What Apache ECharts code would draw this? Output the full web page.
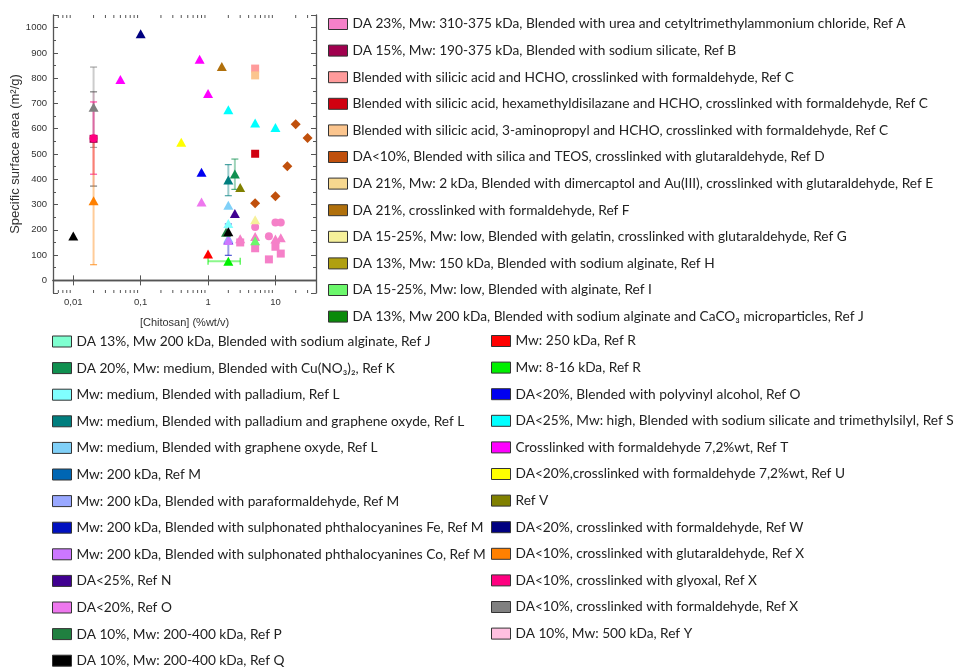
<!DOCTYPE html>
<html>
<head>
<meta charset="utf-8">
<script src="https://cdn.jsdelivr.net/npm/echarts@6/dist/echarts.min.js"></script>
<style>html,body{margin:0;padding:0;background:#fff;}#chart{width:956px;height:667px;}</style>
</head>
<body>
<div id="chart"></div>
<script>
// ---------- series names (legend) ----------
const seriesNames = [
  "DA 23%, Mw: 310-375 kDa, Blended with urea and cetyltrimethylammonium chloride, Ref A",
  "DA 15%, Mw: 190-375 kDa, Blended with sodium silicate, Ref B",
  "Blended with silicic acid and HCHO, crosslinked with formaldehyde, Ref C",
  "Blended with silicic acid, hexamethyldisilazane and HCHO, crosslinked with formaldehyde, Ref C",
  "Blended with silicic acid, 3-aminopropyl and HCHO, crosslinked with formaldehyde, Ref C",
  "DA<10%, Blended with silica and TEOS, crosslinked with glutaraldehyde, Ref D",
  "DA 21%, Mw: 2 kDa, Blended with dimercaptol and Au(III), crosslinked with glutaraldehyde, Ref E",
  "DA 21%, crosslinked with formaldehyde, Ref F",
  "DA 15-25%, Mw: low, Blended with gelatin, crosslinked with glutaraldehyde, Ref G",
  "DA 13%, Mw: 150 kDa, Blended with sodium alginate, Ref H",
  "DA 15-25%, Mw: low, Blended with alginate, Ref I",
  "DA 13%, Mw 200 kDa, Blended with sodium alginate and CaCO\u2083 microparticles, Ref J",
  "DA 13%, Mw 200 kDa, Blended with sodium alginate, Ref J",
  "DA 20%, Mw: medium, Blended with Cu(NO\u2083)\u2082, Ref K",
  "Mw: medium, Blended with palladium, Ref L",
  "Mw: medium, Blended with palladium and graphene oxyde, Ref L",
  "Mw: medium, Blended with graphene oxyde, Ref L",
  "Mw: 200 kDa, Ref M",
  "Mw: 200 kDa, Blended with paraformaldehyde, Ref M",
  "Mw: 200 kDa, Blended with sulphonated phthalocyanines Fe, Ref M",
  "Mw: 200 kDa, Blended with sulphonated phthalocyanines Co, Ref M",
  "DA<25%, Ref N",
  "DA<20%, Ref O",
  "DA 10%, Mw: 200-400 kDa, Ref P",
  "DA 10%, Mw: 200-400 kDa, Ref Q",
  "Mw: 250 kDa, Ref R",
  "Mw: 8-16 kDa, Ref R",
  "DA<20%, Blended with polyvinyl alcohol, Ref O",
  "DA<25%, Mw: high, Blended with sodium silicate and trimethylsilyl, Ref S",
  "Crosslinked with formaldehyde 7,2%wt, Ref T",
  "DA<20%,crosslinked with formaldehyde 7,2%wt, Ref U",
  "Ref V",
  "DA<20%, crosslinked with formaldehyde, Ref W",
  "DA<10%, crosslinked with glutaraldehyde, Ref X",
  "DA<10%, crosslinked with glyoxal, Ref X",
  "DA<10%, crosslinked with formaldehyde, Ref X",
  "DA 10%, Mw: 500 kDa, Ref Y"
];
const seriesColors = [
  "#f580c8","#a0004e","#ff9b9b","#d00010","#fbc58e","#c0500c","#f7d88f","#b0700c",
  "#f6f09a","#b0a010","#6cf76c","#0a8a0a","#7fffd0","#109050","#80ffff","#007e7e",
  "#80d0f8","#0066b3","#99a8ff","#0010c0","#cc77ff","#400090","#ee77ee","#208040",
  "#000000","#ff0000","#00f000","#0000f0","#00ffff","#ff00ff","#ffff00","#808000",
  "#000080","#ff8000","#ff0080","#808080","#ffc0e0"
];

// ---------- data points: [chitosan %wt/v, specific surface area m²/g] ----------
const ptsA  = [[3,165],[5,174],[10,164],[12,169],[3,150],[5,127],[8,83],[10,133],[12,106],[5,211],[8,175],[10,229],[12,229]];
const mkA   = ["tri","tri","tri","tri","sq","sq","sq","sq","sq","ci","ci","ci","ci"];
const ptsB  = [[0.02,560]];            const mkB  = ["sq"];
const ptsC1 = [[5,838]];               const mkC1 = ["sq"];
const ptsC2 = [[5,501]];               const mkC2 = ["sq"];
const ptsC3 = [[5,811]];               const mkC3 = ["sq"];
const ptsD  = [[5,305],[10,333],[15,452],[20,618],[30,563]];
const mkD   = ["dia","dia","dia","dia","dia"];
const ptsE  = [];                      const mkE  = [];
const ptsF  = [[1.6,846]];             const mkF  = ["tri"];
const ptsG  = [[5,240]];               const mkG  = ["tri"];
const ptsH  = [];                      const mkH  = [];
const ptsI  = [[5,157]];               const mkI  = ["tri"];
const ptsJ1 = [];                      const mkJ1 = [];
const ptsJ2 = [];                      const mkJ2 = [];
const ptsK  = [[2.5,421]];             const mkK  = ["tri"];
const ptsL1 = [[2,225]];               const mkL1 = ["tri"];
const ptsL2 = [[2,397]];               const mkL2 = ["tri"];
const ptsL3 = [[2,297]];               const mkL3 = ["tri"];
const ptsM1 = [];                      const mkM1 = [];
const ptsM2 = [[2,167]];               const mkM2 = ["tri"];
const ptsM3 = [[2,161]];               const mkM3 = ["tri"];
const ptsM4 = [[2,158]];               const mkM4 = ["tri"];
const ptsN  = [[2.5,265]];             const mkN  = ["tri"];
const ptsO1 = [[0.8,310]];             const mkO1 = ["tri"];
const ptsP  = [[1.85,190]];            const mkP  = ["tri"];
const ptsQ  = [[0.01,176],[2,192]];    const mkQ  = ["tri","tri"];
const ptsR1 = [[1,104]];               const mkR1 = ["tri"];
const ptsR2 = [[2,76]];                const mkR2 = ["tri"];
const ptsO2 = [[0.8,428]];             const mkO2 = ["tri"];
const ptsS  = [[2,675],[5,623],[10,605]]; const mkS = ["tri","tri","tri"];
const ptsT  = [[0.05,795],[0.75,875],[1,739]]; const mkT = ["tri","tri","tri"];
const ptsU  = [[0.4,546]];             const mkU  = ["tri"];
const ptsV  = [[3,367]];               const mkV  = ["tri"];
const ptsW  = [[0.1,976]];             const mkW  = ["tri"];
const ptsX1 = [[0.02,315]];            const mkX1 = ["tri"];
const ptsX2 = [[0.02,562]];            const mkX2 = ["ci"];
const ptsX3 = [[0.02,685]];            const mkX3 = ["tri"];
const ptsY  = [];                      const mkY  = [];

const seriesPoints  = [ptsA,ptsB,ptsC1,ptsC2,ptsC3,ptsD,ptsE,ptsF,ptsG,ptsH,ptsI,ptsJ1,ptsJ2,ptsK,ptsL1,ptsL2,ptsL3,ptsM1,ptsM2,ptsM3,ptsM4,ptsN,ptsO1,ptsP,ptsQ,ptsR1,ptsR2,ptsO2,ptsS,ptsT,ptsU,ptsV,ptsW,ptsX1,ptsX2,ptsX3,ptsY];
const seriesMarkers = [mkA,mkB,mkC1,mkC2,mkC3,mkD,mkE,mkF,mkG,mkH,mkI,mkJ1,mkJ2,mkK,mkL1,mkL2,mkL3,mkM1,mkM2,mkM3,mkM4,mkN,mkO1,mkP,mkQ,mkR1,mkR2,mkO2,mkS,mkT,mkU,mkV,mkW,mkX1,mkX2,mkX3,mkY];

// ---------- error bars ----------
// vertical: x, low, high, series index (for colour)
const yErrX      = [0.02, 0.02, 0.02, 0.02, 2,   2.5, 2];
const yErrLow    = [526,  373,  420,  62,   335, 360, 99];
const yErrHigh   = [844,  746,  706,  568,  458, 480, 223];
const yErrSeries = [35,   1,    34,   33,   15,  13,  19];
// horizontal: y, low, high, series index
const xErrY      = [76];
const xErrLow    = [1];
const xErrHigh   = [3];
const xErrSeries = [26];

// ---------- axis ----------
const X_MIN = 0.005, X_MAX = 40, Y_MIN = -50, Y_MAX = 1050;

const legendCols = [[0, 12], [12, 25], [25, 37]];

// ---------- build ----------
const markerSymbol = { tri: "triangle", sq: "rect", ci: "circle", dia: "diamond" };
const markerSize = { tri: [10, 9], sq: 8, ci: 8, dia: 10 };

const minorXTicks = [];
for (let d = -3; d <= 1; d++) {
  for (let k = 2; k <= 9; k++) {
    const v = k * Math.pow(10, d);
    if (v > X_MIN * 1.0001 && v < X_MAX * 0.9999) minorXTicks.push(v);
  }
}

const scatterSeries = seriesNames.map((name, i) => ({
  type: "scatter",
  name: name,
  xAxisIndex: 0,
  yAxisIndex: 0,
  z: (i === 19 || i === 1) ? 1.5 : 2,
  itemStyle: { color: seriesColors[i], opacity: 1 },
  emphasis: { disabled: true },
  data: seriesPoints[i].map((p, j) => ({
    value: p,
    symbol: markerSymbol[seriesMarkers[i][j]],
    symbolSize: markerSize[seriesMarkers[i][j]]
  }))
}));

const yErrSeriesDef = {
  type: "custom",
  silent: true,
  z: 1,
  xAxisIndex: 0, yAxisIndex: 0,
  data: yErrX.map((x, i) => [x, yErrLow[i], yErrHigh[i]]),
  encode: { x: 0, y: [1, 2] },
  renderItem: function (params, api) {
    const si = yErrSeries[params.dataIndex];
    const c = seriesColors[si];
    const lo = api.coord([api.value(0), api.value(1)]);
    const hi = api.coord([api.value(0), api.value(2)]);
    const w = 3.5;
    const capC = si === 1 ? "#444" : c;
    return {
      type: "group",
      children: [
        { type: "line", shape: { x1: lo[0], y1: lo[1], x2: hi[0], y2: hi[1] }, style: { stroke: c, lineWidth: 2, opacity: si === 1 ? 0.15 : 0.4 } },
        { type: "line", shape: { x1: lo[0] - w, y1: lo[1], x2: lo[0] + w, y2: lo[1] }, style: { stroke: capC, lineWidth: 1.2, opacity: 0.7 } },
        { type: "line", shape: { x1: hi[0] - w, y1: hi[1], x2: hi[0] + w, y2: hi[1] }, style: { stroke: capC, lineWidth: 1.2, opacity: 0.7 } }
      ]
    };
  }
};

const xErrSeriesDef = {
  type: "custom",
  silent: true,
  z: 1,
  xAxisIndex: 0, yAxisIndex: 0,
  data: xErrY.map((y, i) => [xErrLow[i], xErrHigh[i], y]),
  encode: { x: [0, 1], y: 2 },
  renderItem: function (params, api) {
    const c = seriesColors[xErrSeries[params.dataIndex]];
    const lo = api.coord([api.value(0), api.value(2)]);
    const hi = api.coord([api.value(1), api.value(2)]);
    const h = 3.5;
    return {
      type: "group",
      children: [
        { type: "line", shape: { x1: lo[0], y1: lo[1], x2: hi[0], y2: hi[1] }, style: { stroke: c, lineWidth: 2, opacity: 0.45 } },
        { type: "line", shape: { x1: lo[0], y1: lo[1] - h, x2: lo[0], y2: lo[1] + h }, style: { stroke: c, lineWidth: 1.2, opacity: 0.75 } },
        { type: "line", shape: { x1: hi[0], y1: hi[1] - h, x2: hi[0], y2: hi[1] + h }, style: { stroke: c, lineWidth: 1.2, opacity: 0.75 } }
      ]
    };
  }
};

const minorTickSeries = {
  type: "custom",
  silent: true,
  z: 5,
  xAxisIndex: 0, yAxisIndex: 0,
  data: minorXTicks.map(v => [v, 0]),
  encode: { x: 0, y: 1 },
  renderItem: function (params, api) {
    const x = api.coord([api.value(0), 0])[0];
    const cs = params.coordSys;
    const st = { stroke: "#555", lineWidth: 1 };
    return {
      type: "group",
      children: [
        { type: "line", shape: { x1: x, y1: cs.y + cs.height, x2: x, y2: cs.y + cs.height - 3 }, style: st },
        { type: "line", shape: { x1: x, y1: cs.y, x2: x, y2: cs.y + 3 }, style: st }
      ]
    };
  }
};

function xLabel(v) {
  const l = Math.log10(v);
  const r = Math.round(l);
  if (Math.abs(l - r) > 1e-6) return "";
  return Math.pow(10, r).toFixed(Math.max(0, -r)).replace(".", ",");
}

const axisLineStyle = { color: "#555", width: 1.3 };
const axisFont = "Liberation Sans, Arial, sans-serif";

const legendText = { fontFamily: "Lato, 'Open Sans', sans-serif", fontSize: 13.7, color: "#222", lineHeight: 16 };
const legendPos = [{ left: 328, top: 16 }, { left: 52, top: 333.5 }, { left: 491, top: 333 }];

const option = {
  backgroundColor: "#fff",
  animation: false,
  grid: { left: 53, right: 640, top: 15, bottom: 374, containLabel: false },
  legend: legendCols.map((c, k) => ({
    orient: "vertical",
    left: legendPos[k].left,
    top: legendPos[k].top,
    height: 400,
    padding: 0,
    itemWidth: 19,
    itemHeight: 11,
    itemGap: 10.6,
    icon: "rect",
    selectedMode: false,
    itemStyle: { borderColor: "#333", borderWidth: 1 },
    textStyle: legendText,
    data: seriesNames.slice(c[0], c[1])
  })),
  xAxis: [
    {
      type: "log", logBase: 10, min: X_MIN, max: X_MAX, position: "bottom",
      name: "[Chitosan] (%wt/v)", nameLocation: "middle", nameGap: 24,
      nameTextStyle: { fontFamily: axisFont, fontSize: 11, color: "#333" },
      axisLine: { show: true, lineStyle: axisLineStyle },
      axisTick: { show: true, inside: true, length: 5, lineStyle: { color: "#555" } },
      minorTick: { show: false },
      axisLabel: { formatter: xLabel, fontFamily: axisFont, fontSize: 9.5, color: "#333", margin: 4, showMinLabel: false, showMaxLabel: false },
      splitLine: { show: false }
    },
    {
      type: "log", logBase: 10, min: X_MIN, max: X_MAX, position: "top",
      axisLine: { show: true, lineStyle: axisLineStyle },
      axisTick: { show: true, inside: true, length: 5, lineStyle: { color: "#555" } },
      axisLabel: { show: false },
      splitLine: { show: false }
    }
  ],
  yAxis: [
    {
      type: "value", min: Y_MIN, max: Y_MAX, splitNumber: 11, minInterval: 100, maxInterval: 100, position: "left",
      name: "Specific surface area (m\u00b2/g)", nameLocation: "middle", nameGap: 31,
      nameTextStyle: { fontFamily: axisFont, fontSize: 13, color: "#333" },
      axisLine: { show: true, lineStyle: axisLineStyle },
      axisTick: { show: true, inside: true, length: 5, lineStyle: { color: "#555" } },
      minorTick: { show: true, splitNumber: 2, length: 3, lineStyle: { color: "#555" } },
      axisLabel: { formatter: v => (v < 0 || v > 1000) ? "" : String(v), fontFamily: axisFont, fontSize: 9.5, color: "#333", margin: 6 },
      splitLine: { show: false }
    },
    {
      type: "value", min: Y_MIN, max: Y_MAX, splitNumber: 11, minInterval: 100, maxInterval: 100, position: "right",
      axisLine: { show: true, lineStyle: axisLineStyle },
      axisTick: { show: true, inside: true, length: 5, lineStyle: { color: "#555" } },
      minorTick: { show: true, splitNumber: 2, length: 3, lineStyle: { color: "#555" } },
      axisLabel: { show: false },
      splitLine: { show: false }
    }
  ],
  series: [yErrSeriesDef, xErrSeriesDef].concat(scatterSeries).concat([minorTickSeries])
};

const chart = echarts.init(document.getElementById("chart"), null, { renderer: "canvas" });
chart.setOption(option);
</script>
</body>
</html>
